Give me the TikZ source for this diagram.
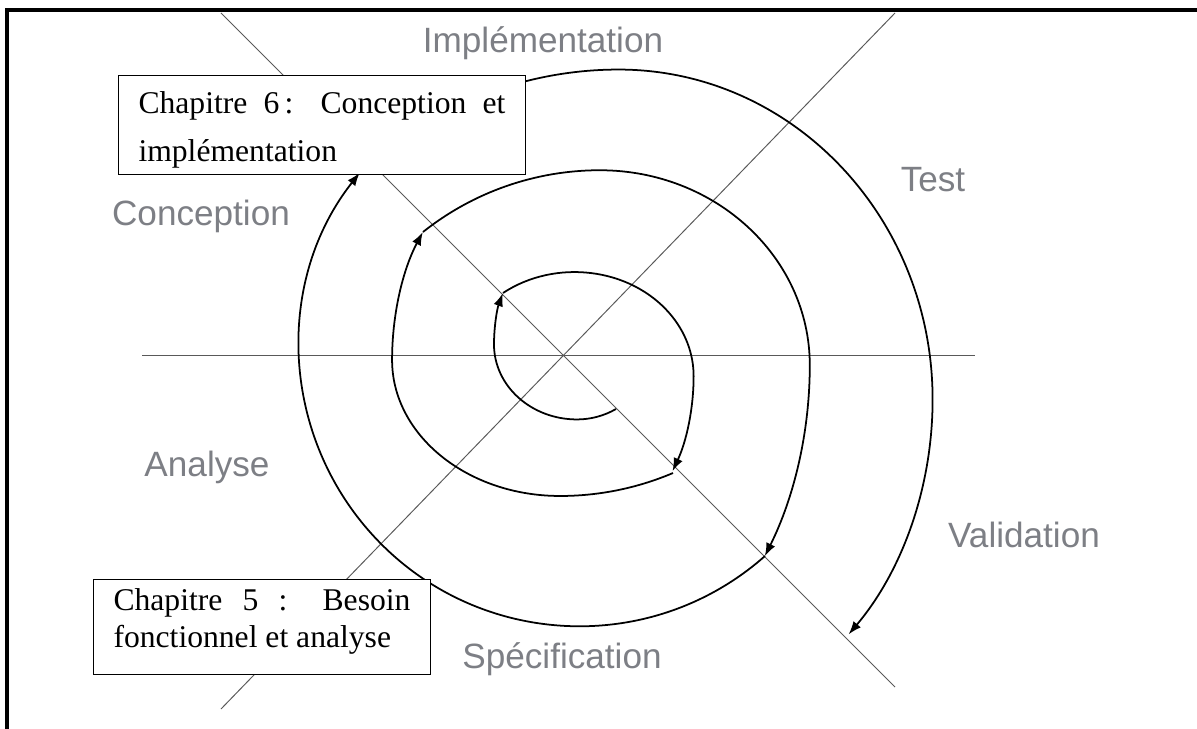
\documentclass[tikz,border=0pt]{standalone}
\usepackage{fontspec}
\setmainfont{Liberation Serif}
\setsansfont{Liberation Sans}
\usetikzlibrary{arrows.meta, positioning}
\definecolor{phasegray}{RGB}{125,127,133}
\hbadness=10000
\hyphenpenalty=10000

\begin{document}
\begin{tikzpicture}[x=0.02cm, y=-0.02cm,
    axis/.style={black!65, line width=0.55pt},
    turn/.style={line width=1pt, -{Latex[length=7.5pt, width=5.5pt]}},
    phase/.style={font=\sffamily\fontsize{20}{24}\selectfont, text=phasegray, anchor=base},
    chapbox/.style={draw, line width=0.6pt, fill=white, anchor=north west, align=justify, inner xsep=0.4cm}]

    \useasboundingbox (0,0) rectangle (1197,729);

    % frame
    \draw[line width=2pt] (7,729) -- (7,10) -- (1197,10);

    % axes
    \draw[axis] (142,355) -- (975,355);
    \draw[axis] (221,13) -- (895,687);
    \draw[axis] (895,13) -- (221,709);

    % spiral, one half turn per arrow
    \draw[turn] (616,409) arc[start angle=60, end angle=90, radius=78]
        arc[start angle=90, end angle=180, x radius=83, y radius=75]
        arc[start angle=180, end angle=207, x radius=81, y radius=113];
    \draw[turn] (503,293) arc[start angle=233, end angle=360, x radius=119, y radius=104]
        arc[start angle=0, end angle=25, radius=225];
    \draw[turn] (673,473) arc[start angle=67, end angle=90, radius=289]
        arc[start angle=90, end angle=180, x radius=168, y radius=136]
        arc[start angle=180, end angle=215, x radius=170, y radius=223];
    \draw[turn] (423,232) arc[start angle=231.5, end angle=270, radius=284]
        arc[start angle=270, end angle=360, x radius=210, y radius=195]
        arc[start angle=0, end angle=26.5, radius=428];
    \draw[turn] (765,556) arc[start angle=48.5, end angle=218.3, radius=280];
    \draw[turn] (360,173) arc[start angle=226.4, end angle=270, radius=375]
        arc[start angle=270, end angle=360, x radius=314, y radius=330]
        arc[start angle=0, end angle=42.9, x radius=314, y radius=345];

    % phases
    \node[phase] (impl) at (543,53) {Implémentation};
    \node[phase] (conc) at (201,226) {Conception};
    \node[phase] (test) at (933,192) {Test};
    \node[phase] (anal) at (207,477) {Analyse};
    \node[phase] (vali) at (1024,547) {Validation};
    \node[phase] (spec) at (562,668) {Spécification};

    % chapters
    \node[chapbox, text width=7.34cm, inner ysep=0.12cm, font=\fontsize{18}{27.5}\selectfont] (chap6) at (118,75)
        {\rule{0pt}{18pt}Chapitre 6\,: Conception et implémentation};
    \node[chapbox, text width=5.94cm, inner ysep=0.12cm, font=\fontsize{18}{21}\selectfont] (chap5) at (93,579)
        {\rule{0pt}{14pt}Chapitre 5 : Besoin fonctionnel et analyse\rule[-12pt]{0pt}{12pt}};
\end{tikzpicture}
\end{document}
